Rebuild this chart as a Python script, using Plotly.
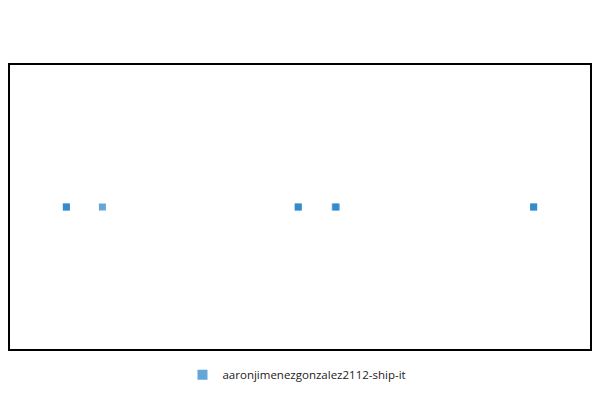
import plotly.graph_objects as go

series_name = "aaronjimenezgonzalez2112-ship-it"
x_values = [9.72, 9.72, 15.93, 49.70, 49.70, 56.08, 56.25, 90.28, 90.28]
y_values = [0, 0, 0, 0, 0, 0, 0, 0, 0]

fig = go.Figure()
fig.add_trace(go.Scatter(
    x=x_values, y=y_values, mode="markers", name=series_name,
    marker=dict(symbol="square", size=7, color="rgb(33,128,200)", opacity=0.7),
    showlegend=False, legendgroup="s",
))
# legend entry (bigger symbol like the reference)
fig.add_trace(go.Scatter(
    x=[None], y=[None], mode="markers", name=series_name, legendgroup="s",
    marker=dict(symbol="square", size=10, color="rgb(33,128,200)", opacity=0.7),
    showlegend=True,
))
fig.update_layout(
    width=600, height=400,
    margin=dict(l=10, r=8, t=65, b=51),
    paper_bgcolor="white", plot_bgcolor="white",
    font=dict(family="Open Sans", size=11.5, color="#222"),
    legend=dict(orientation="h", x=0.4948, xanchor="center", y=-0.04, yanchor="top"),
    xaxis=dict(range=[0, 100], showgrid=False, zeroline=False, showticklabels=False,
               showline=True, mirror=True, linecolor="black", linewidth=2, ticks=""),
    yaxis=dict(range=[-1, 1], showgrid=False, zeroline=False, showticklabels=False,
               showline=True, mirror=True, linecolor="black", linewidth=2, ticks=""),
)
fig.write_html("out.html", config={"displayModeBar": False},
               post_script="document.body.style.margin='0';document.body.style.overflow='hidden';")
